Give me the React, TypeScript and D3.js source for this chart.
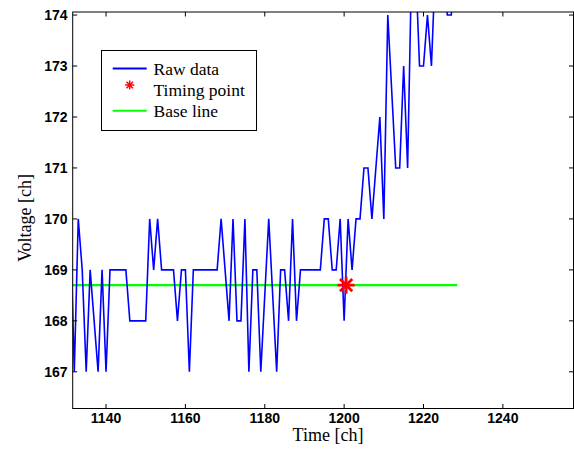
import React from "react";
import * as d3 from "d3";

// ---- data ----
const rawStart = 1131;
const rawVoltage: (number | null)[] = [
  170, 167, 170, 169, 167, 169, 168, 167, 169, 167, // 1131-1140
  169, 169, 169, 169, 169, 168, 168, 168, 168, 168, // 1141-1150
  170, 169, 170, 169, 169, 169, 169, 168, 169, 169, // 1151-1160
  167, 169, 169, 169, 169, 169, 169, 169, 170, 169, // 1161-1170
  168, 170, 168, 168, 170, 167, 169, 169, 167, null, // 1171-1180
  170, null, 167, 169, 169, 168, 170, 168, 169, 169, // 1181-1190
  169, 169, 169, 169, 170, 170, 169, 169, 170, 168, // 1191-1200
  170, 169, 170, 170, 171, 171, 170, 171, 172, 170, // 1201-1210
  174, null, 171, 171, 173, 171, 175, 175, 173, 173, // 1211-1220
  174, 173, 175, 176, 175, 174, 174, 175,            // 1221-1228
];
const timingPoint = { time: 1200.5, voltage: 168.7 };
const baseLineValue = 168.7;
const baseLineRange = [1131, 1228.5];
const xTicks = [1140, 1160, 1180, 1200, 1220, 1240];
const yTicks = [167, 168, 169, 170, 171, 172, 173, 174];
const legendLabels = ["Raw data", "Timing point", "Base line"];
const legendBaselines = [75, 95.5, 117];

const W = 574;
const H = 450;
const L = 72.7, R = 573.5, T = 12, B = 408.5;

const x = d3.scaleLinear().domain([1131.6, 1257.8]).range([L, R]);
const y = d3.scaleLinear().domain([166.28, 174.06]).range([B, T]);

const points: [number, number][] = rawVoltage
  .map((v, i) => (v === null ? null : ([rawStart + i, v] as [number, number])))
  .filter((p): p is [number, number] => p !== null);

const line = d3
  .line<[number, number]>()
  .x((d) => x(d[0]))
  .y((d) => y(d[1]));

function Star({ cx, cy, r, sw }: { cx: number; cy: number; r: number; sw: number }) {
  const d = r * 0.72;
  return (
    <g stroke="#ff0000" strokeWidth={sw} strokeLinecap="butt">
      <line x1={cx} y1={cy - r} x2={cx} y2={cy + r} />
      <line x1={cx - r} y1={cy} x2={cx + r} y2={cy} />
      <line x1={cx - d} y1={cy - d} x2={cx + d} y2={cy + d} />
      <line x1={cx - d} y1={cy + d} x2={cx + d} y2={cy - d} />
    </g>
  );
}

export default function App() {
  const tickFont = "'Liberation Sans', Arial, Helvetica, sans-serif";
  const serif = "'Liberation Serif', 'Times New Roman', serif";
  const tl = 4.5;
  return (
    <svg
      width={W}
      height={H}
      style={{ position: "absolute", left: 0, top: 0, background: "#fff" }}
    >
      <defs>
        <clipPath id="plotclip">
          <rect x={L} y={T} width={R - L} height={B - T} />
        </clipPath>
      </defs>
      <rect x={0} y={0} width={W} height={H} fill="#fff" />

      <g clipPath="url(#plotclip)">
        <line
          x1={x(baseLineRange[0])}
          x2={x(baseLineRange[1])}
          y1={y(baseLineValue)}
          y2={y(baseLineValue)}
          stroke="#00ff00"
          strokeWidth={2.3}
        />
        <path d={line(points) || ""} fill="none" stroke="#0000ff" strokeWidth={1.6} strokeLinejoin="miter" />
        <Star cx={x(timingPoint.time)} cy={y(timingPoint.voltage)} r={8.5} sw={2.8} />
      </g>

      {/* axes box */}
      <rect x={L} y={T} width={R - L} height={B - T} fill="none" stroke="#000" strokeWidth={1} />

      {xTicks.map((t) => (
        <g key={"x" + t}>
          <line x1={x(t)} x2={x(t)} y1={B} y2={B - tl} stroke="#000" />
          <line x1={x(t)} x2={x(t)} y1={T} y2={T + tl} stroke="#000" />
          <text
            x={x(t)}
            y={423}
            textAnchor="middle"
            fontFamily={tickFont}
            fontWeight="bold"
            fontSize={14}
            fill="#000"
          >
            {t}
          </text>
        </g>
      ))}
      {yTicks.map((t) => (
        <g key={"y" + t}>
          <line x1={L} x2={L + tl} y1={y(t)} y2={y(t)} stroke="#000" />
          <line x1={R} x2={R - tl} y1={y(t)} y2={y(t)} stroke="#000" />
          <text
            x={67.5}
            y={y(t) + 5}
            textAnchor="end"
            fontFamily={tickFont}
            fontWeight="bold"
            fontSize={14}
            fill="#000"
          >
            {t}
          </text>
        </g>
      ))}

      <text x={328} y={441} textAnchor="middle" fontFamily={serif} fontSize={18} fill="#000">
        Time [ch]
      </text>
      <text
        transform={`translate(31,218) rotate(-90)`}
        textAnchor="middle"
        fontFamily={serif}
        fontSize={18}
        fill="#000"
      >
        Voltage [ch]
      </text>

      {/* legend */}
      <g>
        <rect x={101.5} y={50.5} width={155} height={80} fill="#fff" stroke="#000" strokeWidth={1} />
        <line x1={112.7} x2={146.7} y1={68.5} y2={68.5} stroke="#0000ff" strokeWidth={2} />
        <Star cx={129.7} cy={85} r={4.5} sw={1.5} />
        <line x1={112.7} x2={146.7} y1={110.7} y2={110.7} stroke="#00ff00" strokeWidth={2} />
        {legendLabels.map((s, i) => (
          <text
            key={s}
            x={153.5}
            y={legendBaselines[i]}
            fontFamily={serif}
            fontSize={17.5}
            fill="#000"
          >
            {s}
          </text>
        ))}
      </g>
    </svg>
  );
}
